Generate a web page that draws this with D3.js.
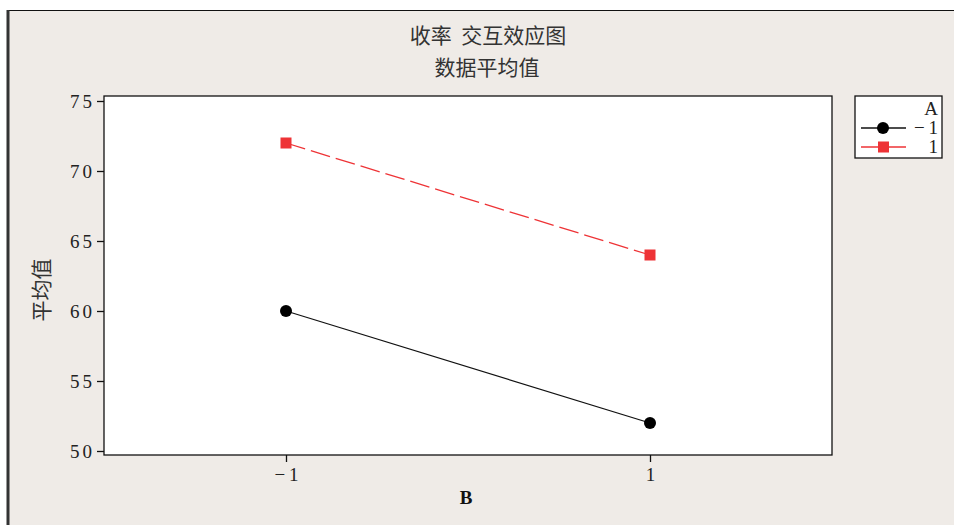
<!DOCTYPE html>
<html>
  <head>
    <meta charset="utf-8">
    <script src="https://d3js.org/d3.v7.min.js"></script>
    <style>
      body { margin: 0; background: #fff; }
      .tick text { font-family: "Liberation Serif", serif; font-size: 19px; fill: #222; }
      .title { font-family: "Noto Sans CJK SC", sans-serif; font-size: 21px; fill: #333; }
      .legend text { font-family: "Liberation Serif", serif; font-size: 19px; fill: #222; }
    </style>
  </head>
  <body>
    <svg width="954" height="525"></svg>
    <script>
      const bLevels = [-1, 1];
      const aLevels = ["−\u20091", "1"];
      const meansA1 = [60, 52];
      const meansA2 = [72, 64];
      const yTicks = [50, 55, 60, 65, 70, 75];
      const xTicks = [-1, 1];

      const svg = d3.select("svg");

      // outer frame
      svg.append("rect").attr("x", 8).attr("y", 10).attr("width", 960).attr("height", 530)
        .attr("fill", "#efebe7");
      svg.append("line").attr("x1", 8).attr("x2", 954).attr("y1", 10.5).attr("y2", 10.5)
        .attr("stroke", "#111").attr("stroke-width", 1);
      svg.append("line").attr("x1", 8).attr("x2", 8).attr("y1", 10).attr("y2", 525)
        .attr("stroke", "#333").attr("stroke-width", 3);

      svg.append("text").attr("class", "title").attr("x", 488).attr("y", 43)
        .attr("text-anchor", "middle").attr("xml:space", "preserve").text("收率  交互效应图");
      svg.append("text").attr("class", "title").attr("x", 487).attr("y", 75)
        .attr("text-anchor", "middle").text("数据平均值");

      const x = d3.scaleLinear().domain([-2, 2]).range([104, 832]);
      const y = d3.scaleLinear().domain([50, 75]).range([451, 101]);
      const plotTop = 96, plotBottom = 455;

      svg.append("rect").attr("x", x(-2)).attr("y", plotTop)
        .attr("width", x(2) - x(-2)).attr("height", plotBottom - plotTop)
        .attr("fill", "#fff").attr("stroke", "#111").attr("stroke-width", 1.3);

      svg.append("g").attr("transform", `translate(${x(-2)},0)`)
        .call(d3.axisLeft(y).tickValues(yTicks).tickSize(7).tickPadding(2))
        .call(g => g.select(".domain").remove())
        .call(g => g.selectAll(".tick line").attr("stroke", "#111").attr("stroke-width", 1.3))
        .call(g => g.selectAll(".tick text").attr("letter-spacing", "3px"));

      svg.append("g").attr("transform", `translate(0,${plotBottom})`)
        .call(d3.axisBottom(x).tickValues(xTicks).tickSize(7).tickPadding(6)
          .tickFormat(d => d < 0 ? "−\u20091" : "1"))
        .call(g => g.select(".domain").remove())
        .call(g => g.selectAll(".tick line").attr("stroke", "#111").attr("stroke-width", 1.3));

      svg.append("text").attr("x", 466).attr("y", 504).attr("text-anchor", "middle")
        .attr("font-family", "Liberation Serif, serif").attr("font-weight", "bold")
        .attr("font-size", 19).attr("fill", "#111").text("B");

      svg.append("text").attr("class", "title")
        .attr("transform", "translate(49,290) rotate(-90)")
        .attr("text-anchor", "middle").attr("font-size", 19).text("平均值");

      const line = d3.line().x((d, i) => x(bLevels[i])).y(d => y(d));
      const red = "#ee3336";

      svg.append("path").datum(meansA1).attr("d", line)
        .attr("fill", "none").attr("stroke", "#111").attr("stroke-width", 1.3);
      svg.append("path").datum(meansA2).attr("d", line)
        .attr("fill", "none").attr("stroke", red).attr("stroke-width", 1.3)
        .attr("stroke-dasharray", "20,6");

      svg.selectAll(".dotA1").data(meansA1).join("circle")
        .attr("cx", (d, i) => x(bLevels[i])).attr("cy", d => y(d))
        .attr("r", 6).attr("fill", "#000");
      svg.selectAll(".dotA2").data(meansA2).join("rect")
        .attr("x", (d, i) => x(bLevels[i]) - 5.5).attr("y", d => y(d) - 5.5)
        .attr("width", 11).attr("height", 11).attr("fill", red);

      // legend
      const lg = svg.append("g").attr("class", "legend").attr("transform", "translate(855,96)");
      lg.append("rect").attr("width", 87).attr("height", 62)
        .attr("fill", "#fff").attr("stroke", "#111").attr("stroke-width", 1.3);
      lg.append("text").attr("x", 83).attr("y", 19).attr("text-anchor", "end").text("A");
      const rows = lg.selectAll(".row").data(aLevels).join("g")
        .attr("transform", (d, i) => `translate(0,${32 + i * 19})`);
      rows.append("line").attr("x1", 6).attr("x2", 51)
        .attr("stroke", (d, i) => i ? red : "#111").attr("stroke-width", 1.3);
      rows.filter((d, i) => i === 0).append("circle").attr("cx", 28).attr("r", 6).attr("fill", "#000");
      rows.filter((d, i) => i === 1).append("rect").attr("x", 23).attr("y", -5.5)
        .attr("width", 11).attr("height", 11).attr("fill", red);
      rows.append("text").attr("x", 83).attr("y", 6).attr("text-anchor", "end").text(d => d);
    </script>
  </body>
</html>
